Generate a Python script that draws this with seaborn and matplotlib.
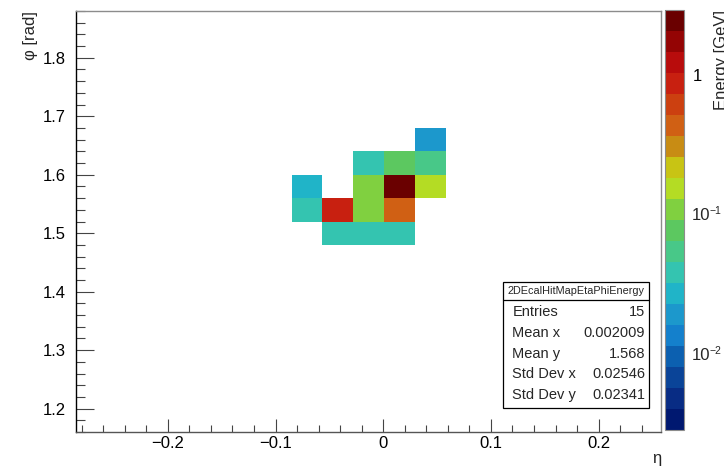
import numpy as np
import matplotlib
matplotlib.use("Agg")
import matplotlib.pyplot as plt
import matplotlib.transforms as mtransforms
from matplotlib.colors import ListedColormap, LogNorm
from matplotlib.ticker import FixedLocator, FixedFormatter, LogLocator, NullFormatter, MultipleLocator
import seaborn as sns

# histogram binning (19 x 18 bins)
eta_edges = np.linspace(-0.2856, 0.2584, 20)
phi_edges = np.linspace(1.16, 1.88, 19)

# ecal hits: eta, phi, energy [GeV]
hit_eta = [0.0436, -0.0136, 0.0150, 0.0436, -0.0709, -0.0136, 0.0150, 0.0436,
           -0.0709, -0.0423, -0.0136, 0.0150, -0.0423, -0.0136, 0.0150]
hit_phi = [1.66, 1.62, 1.62, 1.62, 1.58, 1.58, 1.58, 1.58,
           1.54, 1.54, 1.54, 1.54, 1.50, 1.50, 1.50]
hit_energy = [0.0195, 0.039, 0.078, 0.055, 0.0275, 0.11, 2.92, 0.155,
              0.039, 0.87, 0.11, 0.436, 0.039, 0.039, 0.039]

xtick_vals = [-0.2, -0.1, 0, 0.1, 0.2]
xtick_labels = ["\u22120.2", "\u22120.1", "0", "0.1", "0.2"]
ytick_vals = [1.2, 1.3, 1.4, 1.5, 1.6, 1.7, 1.8]
ytick_labels = ["1.2", "1.3", "1.4", "1.5", "1.6", "1.7", "1.8"]
ztick_vals = [0.01, 0.1, 1]
ztick_exps = ["\u22122", "\u22121", None]

stats_names = ["Entries", "Mean x", "Mean y", "Std Dev x", "Std Dev y"]
stats_values = ["15", "0.002009", "1.568", "0.02546", "0.02341"]

# ROOT-like rainbow palette, 20 contours
palette = ['#001870', '#082c84', '#0a4498', '#0c60b0', '#1480cc', '#1c98cc', '#20b4c8',
           '#34c4b0', '#48c888', '#5cc860', '#80d040', '#b4dc24', '#c8c414', '#c88c14',
           '#d06014', '#cc4010', '#c82010', '#b80c0c', '#940404', '#6a0000']
cmap = ListedColormap(palette)

sns.set_style('ticks')
plt.rcParams['font.family'] = ['Liberation Sans', 'DejaVu Sans']

fig = plt.figure(figsize=(7.24, 4.66), dpi=100)
ax = fig.add_axes([75.7 / 724, 34 / 466, (661.5 - 75.7) / 724, 421 / 466])
cax = fig.add_axes([665 / 724, 36 / 466, 19 / 724, 420 / 466])

zmax = max(hit_energy)
norm = LogNorm(vmin=zmax / 1000, vmax=zmax)

sns.histplot(x=hit_eta, y=hit_phi, weights=hit_energy, bins=[eta_edges, phi_edges],
             cmap=cmap, norm=norm, vmin=None, vmax=None,
             cbar=True, cbar_ax=cax, ax=ax)

ax.set_xlim(eta_edges[0], eta_edges[-1])
ax.set_ylim(phi_edges[0], phi_edges[-1])
ax.set_xlabel('')
ax.set_ylabel('')
ax.grid(False)

ax.xaxis.set_major_locator(FixedLocator(xtick_vals))
ax.xaxis.set_major_formatter(FixedFormatter(xtick_labels))
ax.xaxis.set_minor_locator(MultipleLocator(0.02))
ax.yaxis.set_major_locator(FixedLocator(ytick_vals))
ax.yaxis.set_major_formatter(FixedFormatter(ytick_labels))
ax.yaxis.set_minor_locator(MultipleLocator(0.02))

ax.tick_params(axis='both', which='both', direction='in', colors='#444444',
               labelcolor='black', width=0.8, labelsize=12)
ax.tick_params(axis='x', which='major', length=9.4, pad=3)
ax.tick_params(axis='x', which='minor', length=4.8)
ax.tick_params(axis='y', which='major', length=12.6, pad=7)
ax.tick_params(axis='y', which='minor', length=6.5)

for side in ['top', 'right']:
    ax.spines[side].set_visible(True)
    ax.spines[side].set_color('#8c8c8c')
ax.spines['left'].set_color('black')
ax.spines['bottom'].set_color('#555555')
for s in ax.spines.values():
    s.set_linewidth(1)

# colorbar, ticks on the right pointing in
cax.yaxis.set_ticks_position('right')
cax.yaxis.set_major_locator(FixedLocator(ztick_vals))
cax.yaxis.set_major_formatter(FixedFormatter(['', '', '1']))
cax.yaxis.set_minor_locator(LogLocator(base=10, subs=np.arange(2, 10)))
cax.yaxis.set_minor_formatter(NullFormatter())
cax.tick_params(which='both', direction='in', colors='#222222', labelcolor='black', width=0.8)
cax.tick_params(which='major', length=13.5, pad=6.5, labelsize=12)
cax.tick_params(which='minor', length=6.5)
for s in cax.spines.values():
    s.set_color('#8c8c8c')

# 10^n labels drawn as base + small exponent
trans = mtransforms.blended_transform_factory(cax.transAxes, cax.transData)
for val, ex in zip(ztick_vals, ztick_exps):
    if ex is None:
        continue
    cax.text((692 - 665) / 19, val, '10', transform=trans, ha='left', va='center', fontsize=12)
    up = mtransforms.offset_copy(trans, fig=fig, x=0, y=4.5, units='dots')
    cax.text((710 - 665) / 19, val, ex, transform=up, ha='left', va='center', fontsize=7.5)

# axis titles, ROOT style at the axis ends
fig.text(661 / 724, 1 - 458 / 466, '\u03b7', ha='right', va='center', fontsize=12)
fig.text(30 / 724, 1 - 11 / 466, '\u03c6 [rad]', ha='center', va='top', rotation=90, fontsize=12)
fig.text(714 / 724, 1 - 10 / 466, 'Energy [GeV]', ha='left', va='top', rotation=90, fontsize=12)

# stats box
bl, br, bt, bb = 503 / 724, 649 / 724, 1 - 282 / 466, 1 - 408 / 466
fig.patches.append(plt.Rectangle((bl, bb), br - bl, bt - bb, transform=fig.transFigure,
                                 facecolor='white', edgecolor='black', linewidth=0.9))
sep = 1 - 300 / 466
fig.add_artist(plt.Line2D([bl, br], [sep, sep], transform=fig.transFigure, color='black', linewidth=0.9))
fig.text((bl + br) / 2, 1 - 291.5 / 466, '2DEcalHitMapEtaPhiEnergy', ha='center', va='center', fontsize=7.8)
row_y = [312.3, 333.3, 353.8, 374.5, 395.2]
for name, val, yy in zip(stats_names, stats_values, row_y):
    fig.text(512.5 / 724, 1 - yy / 466, name, ha='left', va='center', fontsize=10.5)
    fig.text(645 / 724, 1 - yy / 466, val, ha='right', va='center', fontsize=10.5)

fig.savefig('out.png', dpi=100)
